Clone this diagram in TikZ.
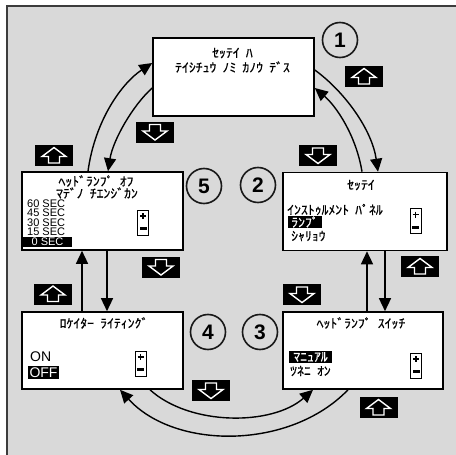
\documentclass[tikz,border=0pt]{standalone}
\usepackage{fontspec}
\setmainfont{Liberation Sans}
\newfontfamily\jp[WordSpace=2,FakeBold=0.6,FakeStretch=1.1]{Noto Sans CJK JP}
\usetikzlibrary{arrows.meta,calc}
\definecolor{bggray}{RGB}{217,217,217}
\definecolor{framegray}{RGB}{60,60,60}
\tikzset{
  screen/.style={draw=black, line width=1.6pt, fill=white, inner sep=0pt},
  circ/.style={circle, draw=black!90, line width=1.6pt, minimum size=35pt, inner sep=0pt,
    font=\bfseries\fontsize{21}{21}\selectfont},
  jptext/.style={inner sep=0pt, font=\jp\fontsize{12.5}{12.5}\selectfont},
  sectext/.style={inner sep=0pt, anchor=west, font=\fontsize{11}{11}\selectfont},
  hl/.style={fill=black, text=white, inner sep=0pt},
  conn/.style={draw=black, line width=1.4pt, -{Triangle[length=13pt,width=12pt]}},
  pics/upbtn/.style={code={
    \fill[black] (-19,-10.5) rectangle (19,10.5);
    \draw[white, line width=1.4pt, line join=miter]
      (0,-8) -- (12,1) -- (5.5,1) -- (5.5,7.5) -- (-5.5,7.5) -- (-5.5,1) -- (-12,1) -- cycle;
  }},
  pics/downbtn/.style={code={
    \fill[black] (-19,-10.5) rectangle (19,10.5);
    \draw[white, line width=1.4pt, line join=miter]
      (0,8) -- (12,-1) -- (5.5,-1) -- (5.5,-7.5) -- (-5.5,-7.5) -- (-5.5,-1) -- (-12,-1) -- cycle;
  }},
  pics/pmind/.style={code={
    \draw[black, line width=1pt, fill=white] (-5.5,-12.5) rectangle (5.5,12.5);
    \draw[black, line width=1.4pt] (-3,-6.5) -- (3,-6.5) (0,-9.5) -- (0,-3.5);
    \fill[black] (-3.5,4.5) rectangle (3.5,7.5);
  }}
}
\begin{document}
\begin{tikzpicture}[x=1pt,y=-1pt]
\useasboundingbox (0,0) rectangle (456,455);
\fill[white] (0,0) rectangle (456,455);
\fill[bggray] (7,6) rectangle (456,455);
\draw[framegray, line width=1.5pt] (7,455) -- (7,6) -- (456,6);

% screens
\node[screen, minimum width=161pt, minimum height=78pt] (b1) at (233.5,77) {};
\node[screen, minimum width=161pt, minimum height=78pt] (b5) at (102.5,211) {};
\node[screen, minimum width=164pt, minimum height=78pt] (b2) at (365,211.5) {};
\node[screen, minimum width=161pt, minimum height=77pt] (b4) at (102.5,350.5) {};
\node[screen, minimum width=160pt, minimum height=77pt] (b3) at (363,350.5) {};

% numbered circles
\node[circ] (c1) at (340,40) {1};
\node[circ] (c5) at (204,186) {5};
\node[circ] (c2) at (258,185) {2};
\node[circ] (c4) at (208,332) {4};
\node[circ] (c3) at (260,332) {3};

% texts box 1
\node[jptext] (t1a) at (232.5,53) {ｾｯﾃｲ ﾊ};
\node[jptext] (t1b) at (232.5,67) {ﾃｲｼﾁｭｳ ﾉﾐ ｶﾉｳ ﾃﾞｽ};

% texts box 5
\node[jptext] (t5a) at (96,181) {ﾍｯﾄﾞﾗﾝﾌﾟ ｵﾌ};
\node[jptext] (t5b) at (97,193) {ﾏﾃﾞﾉ ﾁｴﾝｼﾞｶﾝ};
\node[sectext] (s60) at (27,203.5) {60 SEC};
\node[sectext] (s45) at (27,213) {45 SEC};
\node[sectext] (s30) at (27,222.5) {30 SEC};
\node[sectext] (s15) at (27,232) {15 SEC};
\node[hl, minimum width=49pt, minimum height=10pt, font=\fontsize{11}{11}\selectfont] (s0) at (47.5,242) {0 SEC};
\pic at (143,222.5) {pmind};

% texts box 2
\node[jptext] (t2a) at (361,185) {ｾｯﾃｲ};
\node[jptext, anchor=west] (t2b) at (287,209.5) {ｲﾝｽﾄｩﾙﾒﾝﾄ ﾊﾟﾈﾙ};
\node[jptext, hl, minimum width=34pt, minimum height=12pt] (t2c) at (305,222) {ﾗﾝﾌﾟ};
\node[jptext, anchor=west] (t2d) at (291,236) {ｼｬﾘｮｳ};
\pic at (415.5,221) {pmind};

% texts box 3
\node[jptext] (t3a) at (361,323) {ﾍｯﾄﾞﾗﾝﾌﾟ ｽｲｯﾁ};
\node[jptext, hl, minimum width=43pt, minimum height=12pt] (t3b) at (310.5,357) {ﾏﾆｭｱﾙ};
\node[jptext, anchor=west] (t3c) at (290,371) {ﾂﾈﾆ ｵﾝ};
\pic at (416,365.5) {pmind};

% texts box 4
\node[jptext] (t4a) at (104,323) {ﾛｹｲﾀｰ ﾗｲﾃｨﾝｸﾞ};
\node[inner sep=0pt, anchor=west, font=\fontsize{14}{14}\selectfont] (on) at (30,357) {ON};
\node[hl, minimum width=31pt, minimum height=13pt, font=\fontsize{14}{14}\selectfont] (off) at (43.5,372.5) {OFF};
\pic at (140.5,363.5) {pmind};

% buttons
\pic at (364,76.5) {upbtn};
\pic at (155,132) {downbtn};
\pic at (54,155.5) {upbtn};
\pic at (318,155.5) {downbtn};
\pic at (161,267) {downbtn};
\pic at (420,266.5) {upbtn};
\pic at (53,294) {upbtn};
\pic at (302,294.5) {downbtn};
\pic at (211,390.5) {downbtn};
\pic at (378.5,407.5) {upbtn};

% vertical connectors
\draw[conn] ([xshift=-20.5pt]b4.north) -- ([xshift=-20.5pt]b5.south);
\draw[conn] ([xshift=4.5pt]b5.south) -- ([xshift=4.5pt]b4.north);
\draw[conn] ([xshift=4pt]b3.north) -- ([xshift=4pt]b3.north |- b2.south);
\draw[conn] ([xshift=20pt]b2.south) -- ([xshift=20pt]b2.south |- b3.north);

% curved connectors
\draw[conn] ([xshift=-14.5pt]b5.north) .. controls (95,120) and (122,83) .. ([yshift=14pt]b1.west);
\draw[conn] ([yshift=-11pt]b1.west) .. controls (133,105) and (113,140) .. ([xshift=5.5pt]b5.north);
\draw[conn] ([yshift=7pt]b1.east) .. controls (345,92) and (372,130) .. ([xshift=13pt]b2.north);
\draw[conn] ([xshift=-3pt]b2.north) .. controls (356,135) and (336,106) .. ([yshift=-11pt]b1.east);
\draw[conn] ([xshift=47.5pt]b4.south) .. controls (190,426) and (272,426) .. ([xshift=-50pt]b3.south);
\draw[conn] ([xshift=-15pt]b3.south) .. controls (290,450) and (175,450) .. ([xshift=17.5pt]b4.south);
\end{tikzpicture}
\end{document}
